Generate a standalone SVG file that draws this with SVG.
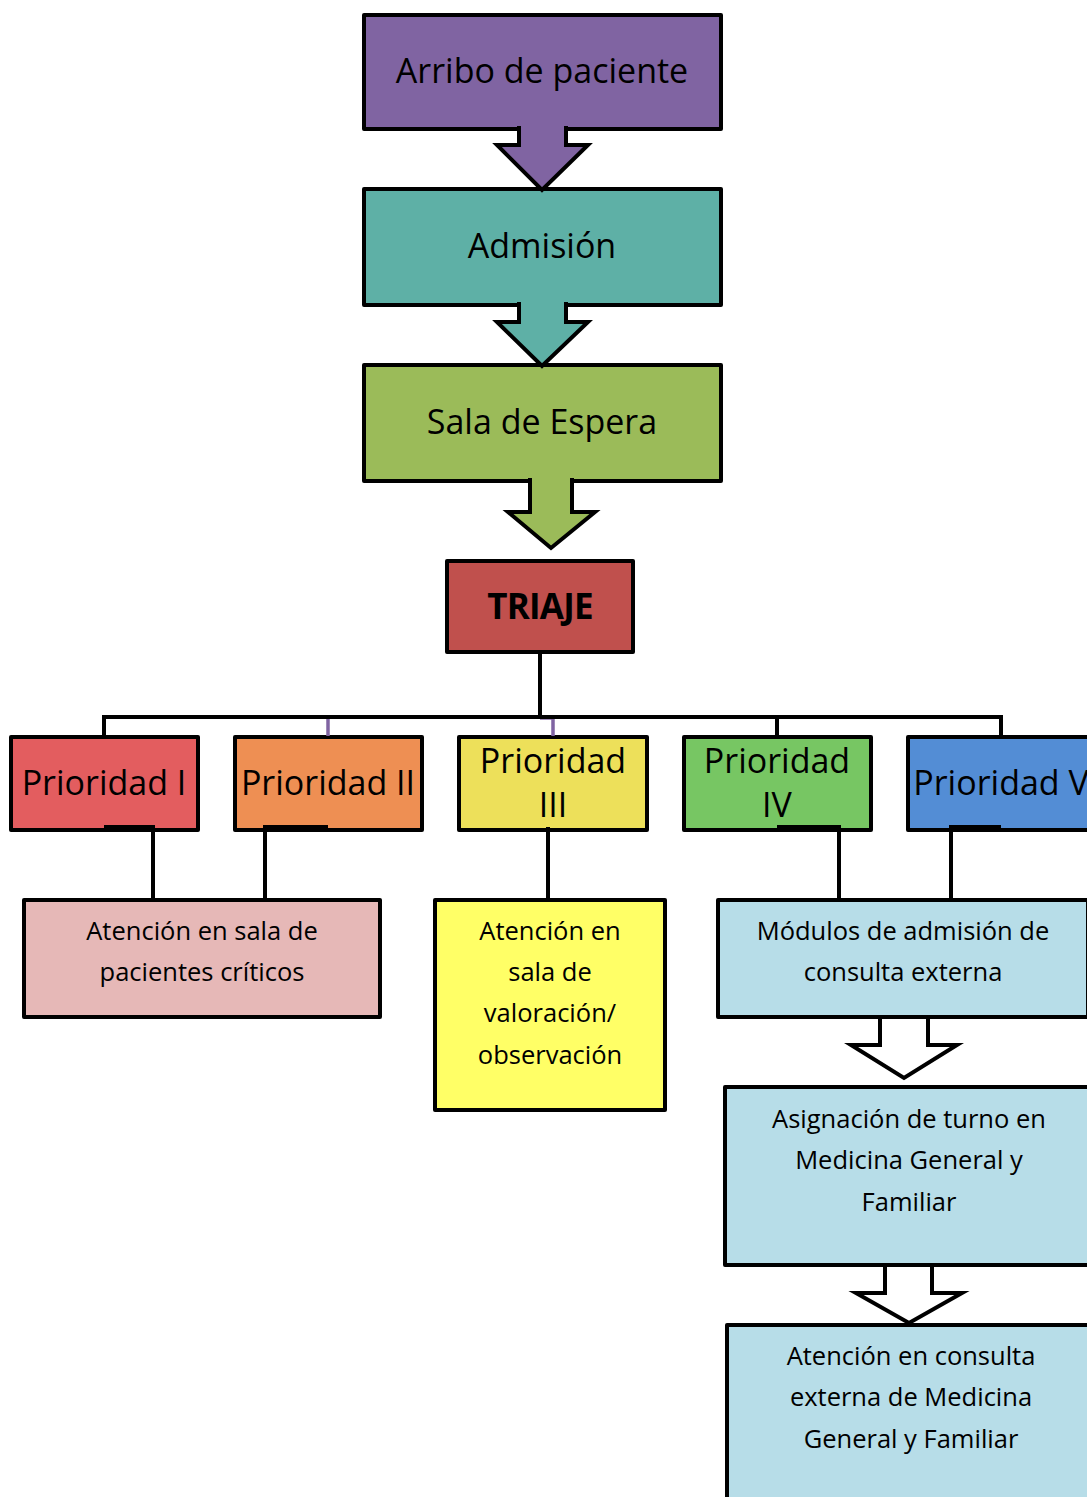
<svg xmlns="http://www.w3.org/2000/svg" width="1087" height="1497" viewBox="0 0 1087 1497">
<style>
.box{stroke:#000;stroke-width:4;stroke-linejoin:round}
.t{font-family:"Open Sans","Noto Sans",sans-serif;fill:#000;text-anchor:middle}
.big{font-size:34px}
.sm{font-size:25.5px}
.arr{stroke:#000;stroke-width:4;stroke-linejoin:miter}
.con{fill:none;stroke:#000;stroke-width:4}
.pur{fill:none;stroke:#8064A2;stroke-width:3.5}
</style>
<rect width="1087" height="1497" fill="#fff"/>
<g id="arribo">
<rect class="box" x="364" y="15" width="357" height="114" fill="#8064A2"/>
<text class="t big" x="542" y="83">Arribo de paciente</text>
</g>
<g id="admision">
<rect class="box" x="364" y="189" width="357" height="116" fill="#5EB0A6"/>
<text class="t big" x="542" y="258">Admisión</text>
</g>
<g id="sala">
<rect class="box" x="364" y="365" width="357" height="116" fill="#9BBB59"/>
<text class="t big" x="542" y="434">Sala de Espera</text>
</g>
<g id="triaje">
<rect class="box" x="447" y="561" width="186" height="91" fill="#C0504D"/>
<text class="t" x="540" y="619" font-size="35" font-weight="bold" letter-spacing="-0.8">TRIAJE</text>
</g>
<g id="p1">
<rect class="box" x="11" y="737" width="187" height="93" fill="#E35D5F"/>
<text class="t big" x="104" y="795">Prioridad I</text>
</g>
<g id="p2">
<rect class="box" x="235" y="737" width="187" height="93" fill="#EE8F53"/>
<text class="t big" x="328" y="795">Prioridad II</text>
</g>
<g id="p3">
<rect class="box" x="459" y="737" width="188" height="93" fill="#EDE05A"/>
<text class="t big" x="553" y="773">Prioridad</text>
<text class="t big" x="553" y="817">III</text>
</g>
<g id="p4">
<rect class="box" x="684" y="737" width="187" height="93" fill="#77C663"/>
<text class="t big" x="777" y="773">Prioridad</text>
<text class="t big" x="777" y="817">IV</text>
</g>
<g id="p5">
<rect class="box" x="908" y="737" width="187" height="93" fill="#538DD5"/>
<text class="t big" x="1001" y="795">Prioridad V</text>
</g>
<g id="criticos">
<rect class="box" x="24" y="900" width="356" height="117" fill="#E6B8B7"/>
<text class="t sm" x="202" y="940">Atención en sala de</text>
<text class="t sm" x="202" y="981">pacientes críticos</text>
</g>
<g id="valoracion">
<rect class="box" x="435" y="900" width="230" height="210" fill="#FFFF66"/>
<text class="t sm" x="550" y="940">Atención en</text>
<text class="t sm" x="550" y="981">sala de</text>
<text class="t sm" x="550" y="1022">valoración/</text>
<text class="t sm" x="550" y="1064">observación</text>
</g>
<g id="modulos">
<rect class="box" x="718" y="900" width="370" height="117" fill="#B7DDE8"/>
<text class="t sm" x="903" y="940">Módulos de admisión de</text>
<text class="t sm" x="903" y="981">consulta externa</text>
</g>
<g id="asignacion">
<rect class="box" x="725" y="1087" width="370" height="178" fill="#B7DDE8"/>
<text class="t sm" x="909" y="1128">Asignación de turno en</text>
<text class="t sm" x="909" y="1169">Medicina General y</text>
<text class="t sm" x="909" y="1211">Familiar</text>
</g>
<g id="consulta">
<rect class="box" x="727" y="1325" width="370" height="190" fill="#B7DDE8"/>
<text class="t sm" x="911" y="1365">Atención en consulta</text>
<text class="t sm" x="911" y="1406">externa de Medicina</text>
<text class="t sm" x="911" y="1448">General y Familiar</text>
</g>
<g id="connectors">
<path class="arr" fill="#8064A2" d="M519 126 V145 H497 L542 190 L588 145 H566 V126"/>
<path class="arr" fill="#5EB0A6" d="M519 302 V322 H497 L542 366 L588 322 H566 V302"/>
<path class="arr" fill="#9BBB59" d="M530 478 V512 H508 L551 548 L595 512 H572 V478"/>
<path class="arr" fill="#fff" d="M880 1017 V1045 H851 L904 1078 L957 1045 H928 V1017 Z"/>
<path class="arr" fill="#fff" d="M885 1265 V1293 H856 L909 1323 L962 1293 H932 V1265 Z"/>
<path class="pur" d="M328 717 V736"/>
<path class="pur" d="M540 718 H553 V736"/>
<path class="con" d="M540 652 V717"/>
<path class="con" d="M104 737 V717 H1001 V737"/>
<path class="con" d="M777 717 V737"/>
<path class="con" d="M104 827 H153 V900"/>
<path class="con" d="M328 827 H265 V900"/>
<path class="con" d="M548 827 V900"/>
<path class="con" d="M777 827 H839 V900"/>
<path class="con" d="M1001 827 H951 V900"/>
</g>
</svg>
